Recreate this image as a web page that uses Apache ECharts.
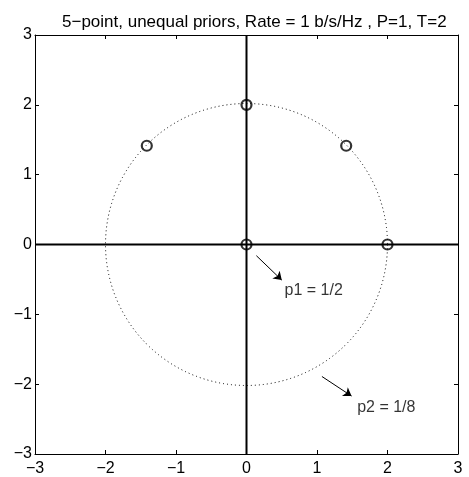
<!DOCTYPE html>
<html>
<head>
<meta charset="utf-8">
<script src="https://cdn.jsdelivr.net/npm/echarts@6/dist/echarts.min.js"></script>
<style>
  html, body { margin: 0; padding: 0; background: #fff; }
  #chart { width: 469px; height: 477px; }
</style>
</head>
<body>
<div id="chart"></div>
<script>
// Constellation points (x, y)
const pointsX = [0, 2, 0, 1.4142, -1.4142];
const pointsY = [0, 0, 2, 1.4142, 1.4142];

// Energy circle: centre x, centre y, radius
const circleSpec = [0, 0, 2];

// Annotation arrows: [x0, y0, x1, y1]
const arrowP1 = [0.14, -0.16, 0.50, -0.51];
const arrowP2 = [1.07, -1.89, 1.49, -2.17];

// Annotation texts and their anchors
const noteTexts = ['p1 = 1/2', 'p2 = 1/8'];
const noteX = [0.54, 1.57];
const noteY = [-0.66, -2.33];

const axisMin = -3, axisMax = 3, axisStep = 1;
const titleText = '5\u2212point, unequal priors, Rate = 1 b/s/Hz , P=1, T=2';

const font = 'Liberation Sans, Arial, Helvetica, sans-serif';
const minus = v => (v < 0 ? '\u2212' + Math.abs(v) : String(v));

function valueAxis(pos, showLabels) {
  return {
    type: 'value', position: pos, min: axisMin, max: axisMax, interval: axisStep,
    axisLine: { show: true, onZero: false, lineStyle: { color: '#000', width: 1 } },
    axisTick: { show: true, inside: true, length: 4, lineStyle: { color: '#000', width: 1 } },
    axisLabel: { show: showLabels, color: '#000', fontSize: 16, fontFamily: font, formatter: minus,
                 margin: pos === 'left' ? 3 : 7 },
    splitLine: { show: false }
  };
}

const chart = echarts.init(document.getElementById('chart'), null, { renderer: 'canvas' });

chart.setOption({
  animation: false,
  backgroundColor: '#fff',
  title: {
    text: titleText, left: 57, top: 9,
    textStyle: { color: '#000', fontSize: 17, fontWeight: 'normal', fontFamily: font }
  },
  grid: { left: 35, top: 35, right: 11, bottom: 20, containLabel: false },
  xAxis: [valueAxis('bottom', true), valueAxis('top', false)],
  yAxis: [valueAxis('left', true), valueAxis('right', false)],
  series: [
    {
      type: 'line', data: [[axisMin, 0], [axisMax, 0]], symbol: 'none',
      lineStyle: { color: '#000', width: 2 }, z: 2
    },
    {
      type: 'line', data: [[0, axisMin], [0, axisMax]], symbol: 'none',
      lineStyle: { color: '#000', width: 2 }, z: 2
    },
    {
      type: 'custom', z: 1,
      data: [circleSpec],
      renderItem: function (params, api) {
        const c = api.coord([api.value(0), api.value(1)]);
        const r = api.size([api.value(2), 0])[0];
        return {
          type: 'circle',
          shape: { cx: c[0], cy: c[1], r: r },
          style: { fill: null, stroke: '#000', lineWidth: 1, lineDash: [1, 3] }
        };
      }
    },
    {
      type: 'lines', coordinateSystem: 'cartesian2d', z: 3,
      symbol: ['none', 'arrow'], symbolSize: [5, 8],
      lineStyle: { color: '#000', width: 1, opacity: 1 },
      data: [arrowP1, arrowP2].map(a => ({ coords: [[a[0], a[1]], [a[2], a[3]]] }))
    },
    {
      type: 'scatter', z: 4, symbol: 'circle', symbolSize: 10,
      itemStyle: { color: 'rgba(0,0,0,0)', borderColor: '#000', borderWidth: 2.2 },
      data: pointsX.map((x, i) => [x, pointsY[i]])
    },
    {
      type: 'scatter', z: 4, symbolSize: 0, silent: true,
      data: noteX.map((x, i) => ({
        value: [x, noteY[i]],
        label: {
          show: true, position: 'right', distance: 0, formatter: noteTexts[i],
          color: '#000', fontSize: 16, fontFamily: font
        }
      }))
    }
  ]
});
</script>
</body>
</html>
